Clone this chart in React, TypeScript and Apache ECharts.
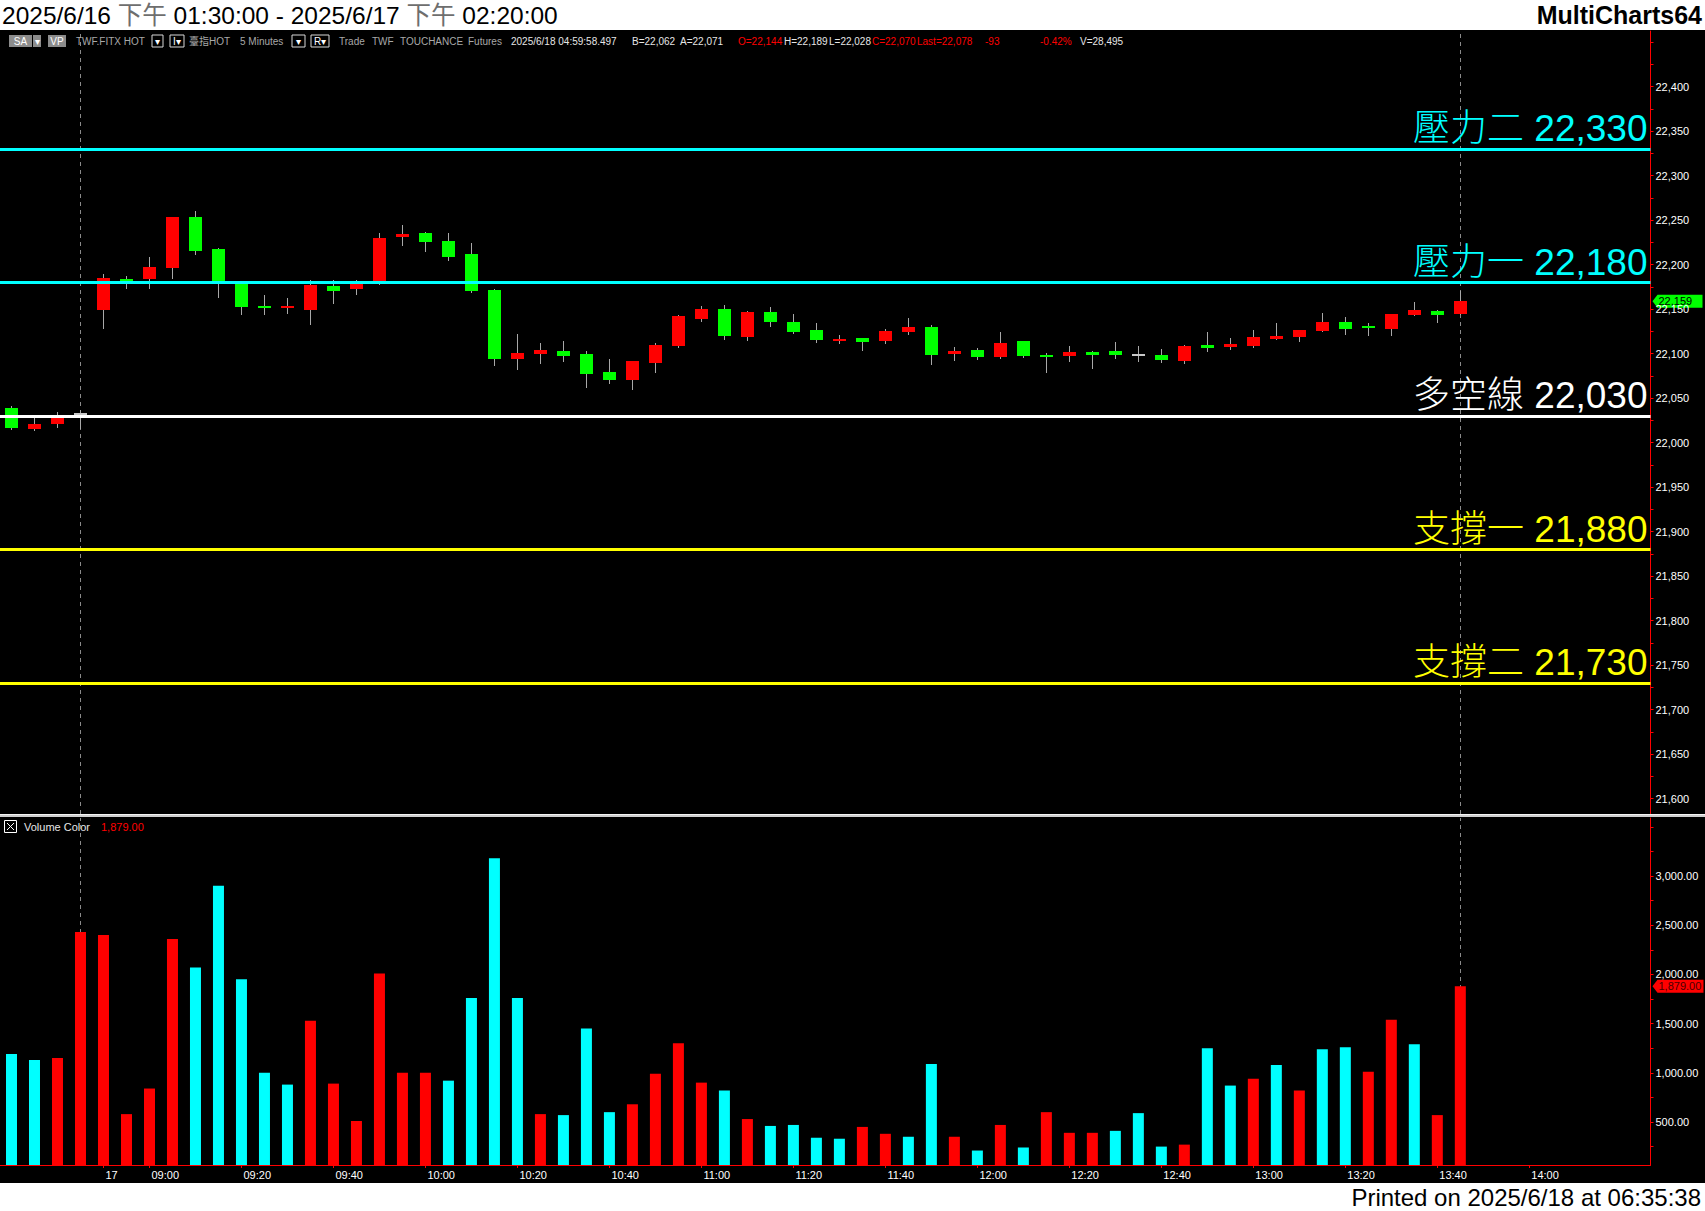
import { useEffect, useRef } from 'react';
import * as echarts from 'echarts';

// ---------- data ----------
// bar index 0..3 : night session end, 4.. : 2025/6/17 day session (08:50 .. 13:45)
const OPEN = [
  22039, 22015, 22021, 22032, 22149, 22184, 22184, 22196,
  22254, 22218, 22180, 22154, 22151, 22149, 22176, 22173,
  22178, 22231, 22236, 22227, 22212, 22172, 22094, 22100,
  22103, 22100, 22080, 22070, 22090, 22109, 22139, 22150,
  22119, 22147, 22136, 22127, 22114, 22118, 22114, 22124,
  22130, 22100, 22104, 22096, 22114, 22099, 22097, 22102,
  22103, 22099, 22099, 22092, 22110, 22108, 22109, 22117,
  22119, 22126, 22136, 22131, 22128, 22144, 22148, 22145,
];
const CLOSE = [
  22017, 22021, 22028, 22032, 22185, 22182, 22197, 22254,
  22215, 22181, 22152, 22151, 22154, 22177, 22170, 22178,
  22230, 22234, 22225, 22209, 22170, 22094, 22101, 22104,
  22097, 22077, 22070, 22092, 22110, 22142, 22150, 22120,
  22147, 22136, 22124, 22115, 22117, 22113, 22125, 22130,
  22099, 22103, 22096, 22112, 22097, 22098, 22102, 22099,
  22099, 22099, 22093, 22109, 22106, 22111, 22119, 22120,
  22127, 22136, 22128, 22129, 22145, 22149, 22144, 22159,
];
const LOW = [
  22015, 22014, 22018, 22016, 22129, 22174, 22174, 22185,
  22212, 22164, 22145, 22145, 22146, 22133, 22157, 22167,
  22178, 22222, 22215, 22205, 22169, 22087, 22083, 22090,
  22092, 22063, 22067, 22060, 22079, 22108, 22137, 22117,
  22115, 22131, 22123, 22113, 22112, 22104, 22112, 22122,
  22088, 22093, 22094, 22095, 22096, 22079, 22092, 22084,
  22095, 22092, 22091, 22090, 22103, 22105, 22108, 22117,
  22114, 22125, 22122, 22121, 22121, 22143, 22136, 22145,
];
const HIGH = [
  22041, 22028, 22034, 22037, 22190, 22187, 22209, 22254,
  22260, 22219, 22181, 22166, 22163, 22183, 22183, 22183,
  22236, 22245, 22237, 22236, 22224, 22173, 22122, 22112,
  22114, 22103, 22094, 22092, 22112, 22144, 22154, 22155,
  22148, 22153, 22145, 22135, 22121, 22118, 22128, 22140,
  22132, 22108, 22106, 22124, 22114, 22101, 22109, 22103,
  22113, 22109, 22105, 22110, 22124, 22118, 22127, 22135,
  22127, 22146, 22141, 22135, 22145, 22158, 22149, 22170,
];
const VOLUME = [
  1190, 1130, 1150, 2430, 2400, 580, 840, 2360,
  2070, 2900, 1950, 1000, 880, 1530, 890, 510,
  2010, 1000, 1000, 920, 1760, 3180, 1760, 580,
  570, 1450, 600, 680, 990, 1300, 900, 820,
  530, 460, 470, 340, 330, 450, 380, 350,
  1090, 350, 210, 470, 240, 600, 390, 390,
  410, 590, 250, 270, 1250, 870, 940, 1080,
  820, 1240, 1260, 1010, 1540, 1290, 570, 1879,
];
// 1 = red volume bar, 0 = cyan volume bar
const VOL_RED = [
  0, 0, 1, 1, 1, 1, 1, 1,
  0, 0, 0, 0, 0, 1, 1, 1,
  1, 1, 1, 0, 0, 0, 0, 1,
  0, 0, 0, 1, 1, 1, 1, 0,
  1, 0, 0, 0, 0, 1, 1, 0,
  0, 1, 0, 1, 0, 1, 1, 1,
  0, 0, 0, 1, 0, 0, 1, 0,
  1, 0, 0, 1, 1, 0, 1, 1,
];
const X_TICKS = [4, 6, 10, 14, 18, 22, 26, 30, 34, 38, 42, 46, 50, 54, 58, 62, 66];
const X_TICK_LABELS = ['17', '09:00', '09:20', '09:40', '10:00', '10:20', '10:40', '11:00', '11:20', '11:40', '12:00', '12:20', '12:40', '13:00', '13:20', '13:40', '14:00'];
const PRICE_TICKS = [21600, 21650, 21700, 21750, 21800, 21850, 21900, 21950, 22000, 22050, 22100, 22150, 22200, 22250, 22300, 22350, 22400];
const VOL_TICKS = [500, 1000, 1500, 2000, 2500, 3000];
const LEVEL_NAMES = ['壓力二', '壓力一', '多空線', '支撐一', '支撐二'];
const LEVEL_VALUES = [22330, 22180, 22030, 21880, 21730];
const SESSION_BREAKS = [3, 63];
const TITLE = '2025/6/16 {g|下午} 01:30:00 - 2025/6/17 {g|下午} 02:20:00';
const PRINTED = 'Printed on 2025/6/18 at 06:35:38';

// ---------- layout / style ----------
const W = 1705;
const H = 1211;
const AXIS_X = 1650.5;
const X_MIN = -0.5;
const X_MAX = 71.27;
const PRICE_TOP = 31;
const PRICE_BOTTOM = 814;
const PRICE_MIN = 21582.8;
const PRICE_MAX = 22462.6;
const VOL_TOP = 818;
const VOL_BOTTOM = 1165;
const VOL_MIN = 63;
const VOL_MAX = 3589;
const BODY_W = 13;
const FONT = "'Liberation Sans', Arial, 'Noto Sans CJK TC', sans-serif";
const CJK = "'Liberation Sans', 'Noto Sans CJK TC', sans-serif";
const RED = '#ff0000';
const GREEN = '#00ff00';
const CYAN = '#00ffff';
const YELLOW = '#ffff00';
const LEVEL_COLORS = [CYAN, CYAN, '#ffffff', YELLOW, YELLOW];

const fmt0 = (v: number) => v.toLocaleString('en-US');
const fmt2 = (v: number) => v.toLocaleString('en-US', { minimumFractionDigits: 2, maximumFractionDigits: 2 });

function range(a: number, b: number, s: number) {
  const r: number[] = [];
  for (let v = a; v <= b + 1e-9; v += s) r.push(v);
  return r;
}

export default function App() {
  const ref = useRef<HTMLDivElement>(null);

  useEffect(() => {
    const el = ref.current;
    if (!el) return;
    const chart = echarts.init(el, null, { renderer: 'svg' });

    const candleData = OPEN.map((o, i) => [i, o, CLOSE[i], LOW[i], HIGH[i]]);
    const volData = VOLUME.map((v, i) => [i, v]);
    const dashed = (xAxisIndex: number, yAxisIndex: number) => ({
      type: 'line', xAxisIndex, yAxisIndex, data: [], silent: true, z: 1,
      markLine: {
        symbol: 'none', silent: true, animation: false, z: 1,
        data: SESSION_BREAKS.map((x) => ({
          xAxis: x,
          lineStyle: { color: '#8a8a8a', width: 1, type: [4, 4] },
          label: { show: false },
        })),
      },
    });

    const option: any = {
      animation: false,
      backgroundColor: '#ffffff',
      grid: [
        { left: 0, top: PRICE_TOP, width: AXIS_X, height: PRICE_BOTTOM - PRICE_TOP, containLabel: false },
        { left: 0, top: VOL_TOP, width: AXIS_X, height: VOL_BOTTOM - VOL_TOP, containLabel: false },
      ],
      xAxis: [
        { gridIndex: 0, type: 'value', min: X_MIN, max: X_MAX, show: false },
        {
          gridIndex: 1, type: 'value', min: X_MIN, max: X_MAX,
          axisLine: { show: true, onZero: false, lineStyle: { color: RED, width: 1 } },
          axisTick: { show: true, customValues: X_TICKS, length: 3, lineStyle: { color: RED } },
          axisLabel: {
            show: true, customValues: X_TICKS, color: '#ffffff', fontSize: 11, fontFamily: FONT,
            align: 'left', margin: 4, padding: [0, 0, 0, 2],
            formatter: (v: number) => {
              const k = X_TICKS.indexOf(Math.round(v));
              return k >= 0 ? X_TICK_LABELS[k] : '';
            },
          },
          splitLine: { show: false },
        },
      ],
      yAxis: [
        {
          gridIndex: 0, type: 'value', position: 'right', min: PRICE_MIN, max: PRICE_MAX,
          axisLine: { show: true, onZero: false, lineStyle: { color: RED, width: 1 } },
          axisTick: { show: true, customValues: range(21600, 22450, 25), length: 3, lineStyle: { color: RED } },
          axisLabel: {
            show: true, customValues: PRICE_TICKS, color: '#ffffff', fontSize: 11, fontFamily: FONT, margin: 5,
            formatter: (v: number) => fmt0(v),
          },
          splitLine: { show: false },
        },
        {
          gridIndex: 1, type: 'value', position: 'right', min: VOL_MIN, max: VOL_MAX,
          axisLine: { show: true, onZero: false, lineStyle: { color: RED, width: 1 } },
          axisTick: { show: true, customValues: range(250, 3500, 250), length: 3, lineStyle: { color: RED } },
          axisLabel: {
            show: true, customValues: VOL_TICKS, color: '#ffffff', fontSize: 11, fontFamily: FONT, margin: 5,
            formatter: (v: number) => fmt2(v),
          },
          splitLine: { show: false },
        },
      ],
      series: [
        dashed(0, 0),
        dashed(1, 1),
        {
          type: 'custom', xAxisIndex: 0, yAxisIndex: 0, data: candleData,
          encode: { x: 0, y: [1, 2, 3, 4] }, z: 5,
          renderItem: (_p: any, api: any) => {
            const i = api.value(0);
            const o = api.value(1);
            const c = api.value(2);
            const l = api.value(3);
            const h = api.value(4);
            const pO = api.coord([i, o]);
            const yC = api.coord([i, c])[1];
            const yL = api.coord([i, l])[1];
            const yH = api.coord([i, h])[1];
            const left = Math.round(pO[0] - BODY_W / 2);
            const wx = left + Math.floor(BODY_W / 2) + 0.5;
            const children: any[] = [
              { type: 'line', shape: { x1: wx, y1: Math.round(yH), x2: wx, y2: Math.round(yL) + 1 }, style: { stroke: '#a8a8a8', lineWidth: 1 } },
            ];
            if (c === o) {
              children.push({ type: 'rect', shape: { x: left, y: Math.round(pO[1]) - 1, width: BODY_W, height: 2 }, style: { fill: '#c8c8c8' } });
            } else {
              const top = Math.round(Math.min(pO[1], yC));
              const bot = Math.round(Math.max(pO[1], yC));
              children.push({ type: 'rect', shape: { x: left, y: top, width: BODY_W, height: Math.max(bot - top, 2) }, style: { fill: c > o ? RED : GREEN } });
            }
            return { type: 'group', children };
          },
        },
        {
          type: 'line', xAxisIndex: 0, yAxisIndex: 0, data: [], silent: true, z: 10,
          markLine: {
            symbol: 'none', silent: true, animation: false, z: 10,
            data: LEVEL_VALUES.map((v, i) => ({
              yAxis: v,
              lineStyle: { color: LEVEL_COLORS[i], width: 3, type: 'solid' },
              label: {
                show: true, position: 'insideEndTop', formatter: `${LEVEL_NAMES[i]} ${fmt0(v)}`,
                color: LEVEL_COLORS[i], fontSize: 37, fontFamily: CJK, fontWeight: 300, distance: [3, 2],
              },
            })),
          },
        },
        {
          type: 'bar', xAxisIndex: 1, yAxisIndex: 1, data: volData, barWidth: 11, clip: true, z: 5,
          itemStyle: { color: (p: any) => (VOL_RED[p.dataIndex] ? RED : CYAN) },
        },
      ],
    };
    chart.setOption(option);

    const lastClose = CLOSE[CLOSE.length - 1];
    const lastVol = VOLUME[VOLUME.length - 1];
    const yP = chart.convertToPixel({ yAxisIndex: 0 }, lastClose) as number;
    const yV = chart.convertToPixel({ yAxisIndex: 1 }, lastVol) as number;

    const TB_Y = 41;
    const tbText = (id: string, x: number, text: string, fill: string) => ({
      type: 'text', id, x, y: TB_Y, z: 50,
      style: { text, fill, fontSize: 10, fontFamily: FONT, align: 'left', textAlign: 'left', verticalAlign: 'middle', textVerticalAlign: 'middle' },
    });
    const tbBox = (id: string, x: number, w: number, label: string, filled: boolean) => ({
      type: 'group', id, z: 50,
      children: [
        { type: 'rect', shape: { x, y: TB_Y - 6, width: w, height: 12 }, style: filled ? { fill: '#8c8c8c' } : { fill: 'none', stroke: '#d8d8d8', lineWidth: 1 } },
        { type: 'text', x: x + w / 2, y: TB_Y, style: { text: label, fill: '#ffffff', fontSize: 10, fontFamily: FONT, align: 'center', textAlign: 'center', verticalAlign: 'middle', textVerticalAlign: 'middle' } },
      ],
    });
    const marker = (id: string, y: number, w: number, text: string, fill: string, color: string) => ({
      type: 'group', id, z: 60,
      children: [
        { type: 'polygon', shape: { points: [[AXIS_X + 2, y], [AXIS_X + 7, y - 6.5], [AXIS_X + 2 + w, y - 6.5], [AXIS_X + 2 + w, y + 6.5], [AXIS_X + 7, y + 6.5]] }, style: { fill } },
        { type: 'text', x: AXIS_X + 8, y, style: { text, fill: color, fontSize: 11, fontFamily: FONT, align: 'left', textAlign: 'left', verticalAlign: 'middle', textVerticalAlign: 'middle' } },
      ],
    });

    chart.setOption({
      graphic: {
        elements: [
          { type: 'rect', id: 'bg', z: -10, silent: true, shape: { x: 0, y: 30, width: W, height: 1153 }, style: { fill: '#000000' } },
          { type: 'rect', id: 'sep', z: 40, silent: true, shape: { x: 0, y: 814, width: W, height: 3 }, style: { fill: '#cfcfcf' } },
          { type: 'rect', id: 'sep2', z: 41, silent: true, shape: { x: 0, y: 814, width: W, height: 1 }, style: { fill: '#f4f4f4' } },
          {
            type: 'text', id: 'title', x: 2, y: 15, z: 50,
            style: {
              text: TITLE, fill: '#000000', fontSize: 24.5, fontFamily: FONT, verticalAlign: 'middle', textVerticalAlign: 'middle',
              rich: { g: { fill: '#6e6e6e', fontSize: 24.5, fontFamily: CJK } },
            },
          },
          {
            type: 'text', id: 'brand', x: 1702, y: 15, z: 50,
            style: { text: 'MultiCharts64', fill: '#000000', fontSize: 25, fontWeight: 'bold', fontFamily: FONT, align: 'right', textAlign: 'right', verticalAlign: 'middle', textVerticalAlign: 'middle' },
          },
          {
            type: 'text', id: 'printed', x: 1701, y: 1197, z: 50,
            style: { text: PRINTED, fill: '#000000', fontSize: 24, fontFamily: FONT, align: 'right', textAlign: 'right', verticalAlign: 'middle', textVerticalAlign: 'middle' },
          },
          tbBox('sa', 9, 23, 'SA', true),
          tbBox('sa2', 33, 8, '▾', true),
          tbBox('vp', 48, 18, 'VP', true),
          tbText('t1', 76, 'TWF.FITX HOT', '#a8a8a8'),
          tbBox('b1', 152, 11, '▾', false),
          tbBox('b2', 170, 14, 'I▾', false),
          tbText('t2', 189, '臺指HOT', '#a8a8a8'),
          tbText('t3', 240, '5 Minutes', '#a8a8a8'),
          tbBox('b3', 292, 13, '▾', false),
          tbBox('b4', 311, 18, 'R▾', false),
          tbText('t4', 339, 'Trade', '#a8a8a8'),
          tbText('t5', 372, 'TWF', '#a8a8a8'),
          tbText('t6', 400, 'TOUCHANCE', '#a8a8a8'),
          tbText('t7', 468, 'Futures', '#a8a8a8'),
          tbText('t8', 511, '2025/6/18 04:59:58.497', '#e6e6e6'),
          tbText('t9', 632, 'B=22,062', '#e6e6e6'),
          tbText('t10', 680, 'A=22,071', '#e6e6e6'),
          tbText('t11', 738, 'O=22,144', RED),
          tbText('t12', 784, 'H=22,189', '#e6e6e6'),
          tbText('t13', 829, 'L=22,028', '#e6e6e6'),
          tbText('t14', 872, 'C=22,070', RED),
          tbText('t15', 917, 'Last=22,078', RED),
          tbText('t16', 985, '-93', RED),
          tbText('t17', 1040, '-0.42%', RED),
          tbText('t18', 1080, 'V=28,495', '#e6e6e6'),
          {
            type: 'group', id: 'vlegend', z: 50,
            children: [
              { type: 'rect', shape: { x: 4.5, y: 820.5, width: 12, height: 12 }, style: { fill: 'none', stroke: '#ffffff', lineWidth: 1 } },
              { type: 'line', shape: { x1: 7, y1: 823, x2: 14, y2: 830 }, style: { stroke: '#ffffff', lineWidth: 1 } },
              { type: 'line', shape: { x1: 14, y1: 823, x2: 7, y2: 830 }, style: { stroke: '#ffffff', lineWidth: 1 } },
              { type: 'text', x: 24, y: 827, style: { text: 'Volume Color', fill: '#e6e6e6', fontSize: 11, fontFamily: FONT, verticalAlign: 'middle', textVerticalAlign: 'middle' } },
              { type: 'text', x: 101, y: 827, style: { text: fmt2(lastVol), fill: RED, fontSize: 11, fontFamily: FONT, verticalAlign: 'middle', textVerticalAlign: 'middle' } },
            ],
          },
          marker('pm', yP, 50, fmt0(lastClose), GREEN, '#000000'),
          marker('vm', yV, 51, fmt2(lastVol), RED, '#4a0000'),
        ],
      },
    });

    return () => chart.dispose();
  }, []);

  return <div ref={ref} style={{ position: 'fixed', left: 0, top: 0, width: W, height: H }} />;
}
